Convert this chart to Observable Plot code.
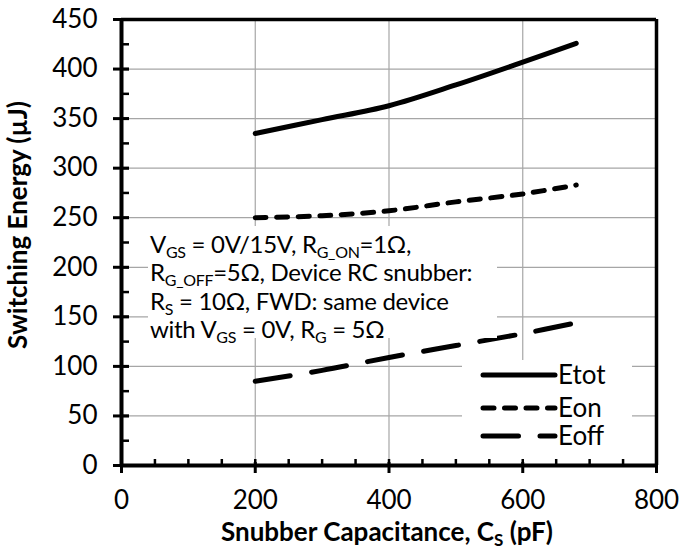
<!DOCTYPE html>
<html><head><meta charset="utf-8">
<script src="https://cdn.jsdelivr.net/npm/d3@7"></script>
<script src="https://cdn.jsdelivr.net/npm/@observablehq/plot@0.6"></script>
<style>
body{margin:0;background:#fff;}
#chart svg{font-family:Lato, sans-serif;}
</style></head><body><div id="chart"></div>
<script>
// ---- data ----
const capacitance = [200, 300, 400, 500, 600, 680];
const etot = [335, 349, 363, 384, 407, 426];
const eon  = [250, 252, 257, 266, 274, 283];
const eoff = [85, 96, 109, 121, 133, 144];
const seriesNames = ["Etot", "Eon", "Eoff"];
const xTicks = [0, 200, 400, 600, 800];
const yTicks = [0, 50, 100, 150, 200, 250, 300, 350, 400, 450];
const xMinor = [0, 50, 100, 150, 200, 250, 300, 350, 400, 450, 500, 550, 600, 650, 700, 750, 800];
const yMinor = [0, 25, 50, 75, 100, 125, 150, 175, 200, 225, 250, 275, 300, 325, 350, 375, 400, 425, 450];
const xLabel = ["Snubber Capacitance, C", "S", " (pF)"];
const yLabel = "Switching Energy (µJ)";
const noteLines = [
  [["V",0],["GS",1],[" = 0V/15V, R",0],["G_ON",1],["=1Ω,",0]],
  [["R",0],["G_OFF",1],["=5Ω, Device RC snubber:",0]],
  [["R",0],["S",1],[" = 10Ω, FWD: same device",0]],
  [["with V",0],["GS",1],[" = 0V, R",0],["G",1],[" = 5Ω",0]]
];

const series = [etot, eon, eoff];
const dashes = [null, "11,10.5", "35.5,21.5"];
const table = seriesNames.map((name, k) => capacitance.map((c, i) => ({c, e: series[k][i], s: name})));

const W = 681, H = 552, ML = 121, MR = 25, MT = 19, MB = 87;
const FW = W - ML - MR, FH = H - MT - MB;
const grid = {stroke: "#a6a6a6", strokeOpacity: 1, strokeWidth: 1.2};

const plot = Plot.plot({
  width: W, height: H,
  marginLeft: ML, marginRight: MR, marginTop: MT, marginBottom: MB,
  style: {fontFamily: "Lato, sans-serif", fontSize: "26px", color: "#000", background: "#fff", overflow: "visible"},
  x: {domain: [xTicks[0], xTicks[xTicks.length - 1]]},
  y: {domain: [yTicks[0], yTicks[yTicks.length - 1]]},
  marks: [
    Plot.gridX(xTicks, grid),
    Plot.gridY(yTicks, grid),
    // minor ticks (inside)
    Plot.tickX(xMinor, {x: d => d, stroke: "#000", strokeWidth: 2.5, insetTop: FH - 6, insetBottom: 0}),
    Plot.tickY(yMinor, {y: d => d, stroke: "#000", strokeWidth: 2.5, insetLeft: 0, insetRight: FW - 8}),
    // major ticks (crossing)
    Plot.tickX(xTicks, {x: d => d, stroke: "#000", strokeWidth: 3, insetTop: FH - 3, insetBottom: -8}),
    Plot.tickY(yTicks, {y: d => d, stroke: "#000", strokeWidth: 3, insetLeft: -8, insetRight: FW - 8}),
    Plot.axisX(xTicks, {tickSize: 0, tickPadding: 25, fontSize: 26, label: null}),
    Plot.axisY(yTicks, {tickSize: 0, tickPadding: 24, fontSize: 26, label: null}),
    // frame
    Plot.ruleY([yTicks[yTicks.length - 1]], {stroke: "#000", strokeWidth: 3.5}),
    Plot.ruleX([xTicks[xTicks.length - 1]], {stroke: "#000", strokeWidth: 3.5}),
    Plot.ruleX([xTicks[0]], {stroke: "#000", strokeWidth: 4}),
    Plot.ruleY([yTicks[0]], {stroke: "#000", strokeWidth: 4}),
    ...table.map((rows, k) => Plot.line(rows, {
      x: "c", y: "e", stroke: "#000", strokeWidth: 5, curve: "catmull-rom",
      strokeDasharray: dashes[k], strokeLinecap: "round"
    }))
  ]
});
document.getElementById("chart").appendChild(plot);

const svg = d3.select(plot);
const ns = svg.append("g").attr("font-family", "Lato, sans-serif").attr("fill", "#000")
  .attr("text-anchor", "start");

// axis titles
const xt = ns.append("text").attr("x", 387).attr("y", 541).attr("text-anchor", "middle")
  .attr("font-size", 26).attr("font-weight", "bold");
xt.append("tspan").text(xLabel[0]);
xt.append("tspan").attr("font-size", 17).attr("dy", 5).text(xLabel[1]);
xt.append("tspan").attr("dy", -5).text(xLabel[2]);

ns.append("text").attr("transform", "translate(27,225) rotate(-90)").attr("text-anchor", "middle")
  .attr("font-size", 26).attr("font-weight", "bold").text(yLabel);

// annotation box
ns.append("rect").attr("x", 148).attr("y", 226).attr("width", 349).attr("height", 112).attr("fill", "#fff");
noteLines.forEach((parts, i) => {
  const t = ns.append("text").attr("x", 150).attr("y", 253 + i * 28.4).attr("font-size", 24)
    .attr("letter-spacing", "-0.3px").attr("text-anchor", "start");
  let sub = false;
  parts.forEach(([s, isSub]) => {
    const ts = t.append("tspan").text(s);
    if (isSub && !sub) { ts.attr("font-size", 16).attr("dy", 5); sub = true; }
    else if (!isSub && sub) { ts.attr("dy", -5); sub = false; }
    else if (isSub) ts.attr("font-size", 16);
  });
});

// legend
ns.append("rect").attr("x", 462).attr("y", 360).attr("width", 170).attr("height", 99).attr("fill", "#fff");
const rowsY = [375, 408, 436];
seriesNames.forEach((name, k) => {
  ns.append("line").attr("x1", 483).attr("x2", 555).attr("y1", rowsY[k]).attr("y2", rowsY[k])
    .attr("stroke", "#000").attr("stroke-width", 5).attr("stroke-linecap", "round")
    .attr("stroke-dasharray", dashes[k]);
  ns.append("text").attr("x", 558).attr("y", rowsY[k]).attr("dy", "0.36em").attr("font-size", 26)
    .attr("text-anchor", "start").text(name);
});
</script></body></html>
